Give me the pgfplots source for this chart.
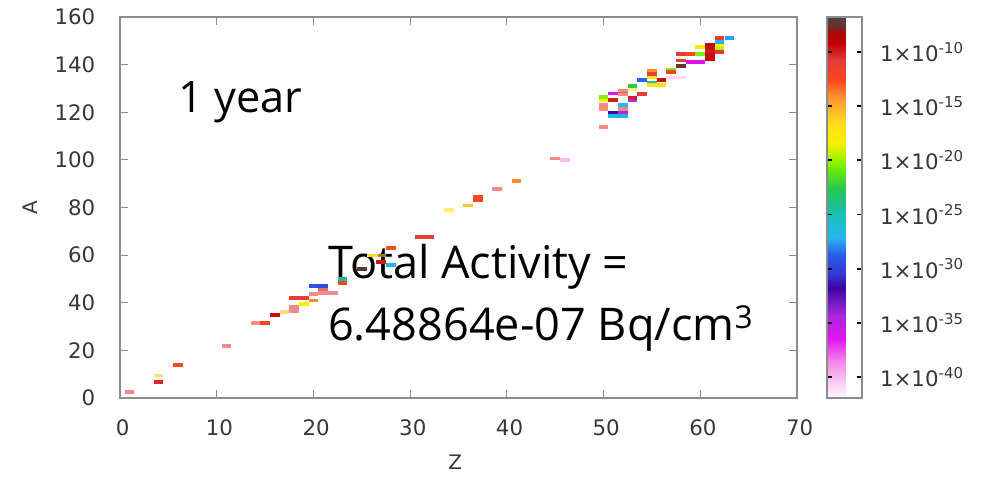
\documentclass[border=0pt]{standalone}
\usepackage{fontspec}
\setmainfont{DejaVu Sans}
\newfontfamily\annot{Open Sans}
\usepackage{pgfplots}
\usepackage{pgfplotstable}
\pgfplotsset{compat=1.18}
\pgfdeclareplotmark{cell}{\pgfpathrectangle{\pgfpoint{-3.6pt}{-1.4pt}}{\pgfpoint{7.2pt}{2.8pt}}\pgfusepathqfill}
\definecolor{axgray}{RGB}{140,140,140}
\definecolor{lblgray}{RGB}{55,55,55}

\pgfplotstableread{
Z A m
4 6.6 -10.2
6 13.8 -12.6
15 31.6 -12.0
16 35 -9.5
19 39.6 -18.1
18 42 -11.2
19 42 -11.0
20 41 -14
20 46.9 -29
21 46.9 -29.5
23 50 -24.4
23 48.3 -12.3
25 54.3 -7.3
26 59.8 -16.8
27 57 -9.8
28 56 -26.7
28 63 -12.8
31 67.7 -11.2
32 67.7 -11.2
36 80.8 -15.8
37 82.9 -12.6
37 84.4 -12.6
41 91.2 -14
50 125.2 -18.1
50 126.3 -20.4
51 125 -10
51 127.9 -36.4
51 119.6 -31.5
52 119.6 -35.5
51 118.3 -26.5
52 118.3 -26.5
52 123 -26.7
53 125 -35
53 126.2 -10
53 131 -22.4
54 127.6 -11
54 133.6 -28.5
55 137.2 -14
55 136 -11.5
55 134.6 -18
55 132.5 -24.4
55 131.4 -17.2
56 133.6 -9.5
56 131.4 -17.2
57 138 -20.5
57 137 -12.6
58 141.7 -11
58 139.3 -7.5
58 144.4 -11
59 144.4 -12.6
59 141 -36.4
60 141 -36.4
60 144.4 -20.5
60 147.5 -18
61 142.5 -9.5
61 144 -9.5
61 145.5 -9.8
61 147 -9.5
61 148.5 -9.3
62 149.6 -26.7
62 148 -18
62 146.7 -19.5
62 145.4 -10.7
62 151.2 -11
63 151.2 -27.5
}\solidcells

\pgfplotstableread{
Z A m
1 2.5 -10.7
4 9.4 -15.8
11 21.9 -11
14 31.4 -12.6
17 36.2 -15.8
18 36.5 -11
18 38.3 -11
20 43.8 -11
21 44.2 -11
22 44.2 -11
21 45.8 -9.5
27 59.8 -16
34 78.9 -17
39 87.9 -11
45 100.6 -11
46 100 -38.7
50 113.7 -11
50 121.3 -12.6
50 123 -11
52 121.5 -11
52 127.6 -11
52 129 -11.5
53 129.7 -17.5
57 134.6 -40
58 134.6 -40
}\faintcells

\begin{document}
\begin{tikzpicture}
\begin{axis}[name=main, scale only axis, width=507.75pt, height=285.75pt,
 xmin=0, xmax=70, ymin=0, ymax=160,
 xtick={0,10,...,70}, ytick={0,20,...,160},
 tick align=inside, major tick length=6pt,
 axis line style={axgray, line width=0.9pt},
 every tick/.style={axgray, line width=0.9pt},
 tick label style={font=\fontsize{16}{19}\selectfont, text=lblgray},
 /pgf/number format/assume math mode=true,
 xticklabel style={yshift=-12.5pt, xshift=2pt},
 yticklabel style={xshift=-15pt},
 xlabel={Z}, ylabel={A},
 label style={font=\fontsize{15}{18}\selectfont, text=lblgray},
 xlabel style={at={(axis description cs:0.495,-0.168)}, anchor=center},
 ylabel style={at={(axis description cs:-0.1329,0.5)}, anchor=center},
 colormap={act}{
  rgb255(0pt)=(255,248,252);
  rgb255(12pt)=(250,215,245);
  rgb255(35pt)=(245,140,235);
  rgb255(60pt)=(225,20,240);
  rgb255(82pt)=(170,40,220);
  rgb255(102pt)=(90,20,180);
  rgb255(110pt)=(60,0,160);
  rgb255(125pt)=(50,60,210);
  rgb255(143pt)=(40,90,235);
  rgb255(160pt)=(40,180,240);
  rgb255(178pt)=(30,190,200);
  rgb255(192pt)=(30,190,150);
  rgb255(210pt)=(40,200,80);
  rgb255(232pt)=(120,240,0);
  rgb255(255pt)=(250,240,0);
  rgb255(275pt)=(255,220,30);
  rgb255(300pt)=(255,150,50);
  rgb255(318pt)=(250,70,30);
  rgb255(338pt)=(225,60,60);
  rgb255(355pt)=(195,0,0);
  rgb255(366pt)=(170,10,10);
  rgb255(372pt)=(100,50,50);
  rgb255(381pt)=(80,65,65)},
 point meta min=-41.94, point meta max=-6.77,
 colorbar,
 colorbar shift/.style={xshift=22.5pt},
 colorbar style={at={(parent axis.north east)}, anchor=north west,
   scale only axis, width=26.25pt, height=285.75pt,
   ytick={-40,-35,-30,-25,-20,-15,-10},
   yticklabels={1×10\textsuperscript{-40},1×10\textsuperscript{-35},1×10\textsuperscript{-30},1×10\textsuperscript{-25},1×10\textsuperscript{-20},1×10\textsuperscript{-15},1×10\textsuperscript{-10}},
   tick align=inside, ytick pos=both, yticklabel pos=right,
   major tick length=4pt,
   every tick/.style={black, line width=1.4pt},
   axis line style={axgray, line width=0.9pt},
   yticklabel style={xshift=10pt, font=\fontsize{16}{19}\selectfont, text=lblgray}},
]
\addplot[scatter, only marks, mark=cell, point meta=explicit, mark options={opacity=0.6}] table[x=Z, y=A, meta=m] {\faintcells};
\addplot[scatter, only marks, mark=cell, point meta=explicit] table[x=Z, y=A, meta=m] {\solidcells};
\node[anchor=base west, inner sep=0, font=\annot\fontsize{33.8}{40}\selectfont] at (axis cs:21.5,50.1) {Total Activity =};
\node[anchor=base west, inner sep=0, font=\annot\fontsize{33.8}{40}\selectfont] at (axis cs:21.5,24) {6.48864e-07 Bq/cm\textsuperscript{3}};
\node[anchor=base west, inner sep=0, font=\annot\fontsize{32.5}{39}\selectfont] at (axis cs:6.0,120) {1 year};
\end{axis}
\pgfresetboundingbox
\path ([shift={(-90pt,-58.5pt)}]main.south west) rectangle ([shift={(144pt,12.75pt)}]main.north east);
\end{tikzpicture}
\end{document}
